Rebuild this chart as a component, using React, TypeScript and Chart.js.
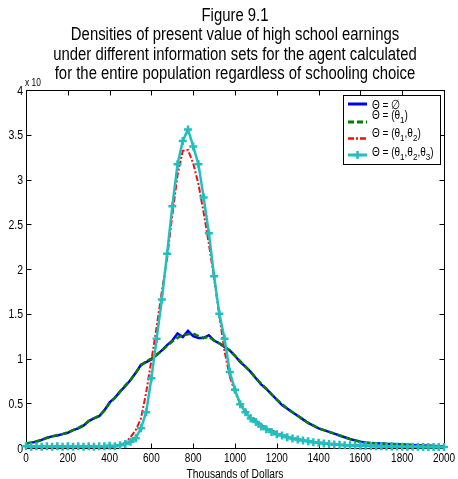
import React, { useEffect, useRef } from "react";
import { Chart, registerables } from "chart.js";

Chart.register(...registerables);

// Present value of high school earnings, thousands of dollars
const EARNINGS = [
  0, 25, 50, 75, 100, 125, 150, 175, 200, 225, 250, 275, 300, 325, 350, 375,
  400, 425, 450, 475, 500, 525, 550, 575, 600, 625, 650, 675, 700, 725, 750,
  775, 800, 825, 850, 875, 900, 925, 950, 975, 1000, 1025, 1050, 1075, 1100,
  1125, 1150, 1175, 1200, 1225, 1250, 1275, 1300, 1325, 1350, 1375, 1400,
  1425, 1450, 1475, 1500, 1525, 1550, 1575, 1600, 1625, 1650, 1675, 1700,
  1725, 1750, 1775, 1800, 1825, 1850, 1875, 1900, 1925, 1950, 1975, 2000,
];

// Densities (x 10^-3) under each information set
const THETA_NONE = [
  0.05, 0.06, 0.07, 0.09, 0.115, 0.13, 0.14, 0.155, 0.17, 0.2, 0.22, 0.25,
  0.3, 0.33, 0.355, 0.42, 0.51, 0.56, 0.63, 0.69, 0.76, 0.84, 0.93, 0.96,
  0.99, 1.04, 1.09, 1.15, 1.2, 1.28, 1.24, 1.31, 1.25, 1.23, 1.23, 1.26, 1.2,
  1.17, 1.13, 1.09, 1.03, 0.96, 0.91, 0.85, 0.78, 0.71, 0.66, 0.6, 0.54,
  0.48, 0.44, 0.4, 0.36, 0.32, 0.28, 0.25, 0.22, 0.2, 0.18, 0.16, 0.14, 0.12,
  0.1, 0.085, 0.07, 0.06, 0.055, 0.052, 0.05, 0.046, 0.045, 0.042, 0.04,
  0.036, 0.032, 0.03, 0.027, 0.025, 0.022, 0.02, 0.02,
];

const THETA_1 = [
  0.05, 0.06, 0.075, 0.09, 0.11, 0.13, 0.145, 0.155, 0.175, 0.2, 0.225, 0.255,
  0.3, 0.33, 0.36, 0.42, 0.5, 0.56, 0.63, 0.7, 0.76, 0.84, 0.92, 0.97, 1.0,
  1.04, 1.09, 1.14, 1.19, 1.23, 1.26, 1.27, 1.28, 1.25, 1.23, 1.24, 1.2, 1.17,
  1.13, 1.09, 1.03, 0.97, 0.91, 0.85, 0.78, 0.72, 0.66, 0.6, 0.54, 0.49,
  0.44, 0.4, 0.36, 0.32, 0.28, 0.25, 0.22, 0.2, 0.18, 0.16, 0.14, 0.12, 0.1,
  0.085, 0.072, 0.062, 0.056, 0.052, 0.05, 0.047, 0.045, 0.042, 0.04, 0.036,
  0.033, 0.03, 0.027, 0.025, 0.022, 0.02, 0.02,
];

const THETA_12 = [
  0.01, 0.01, 0.01, 0.01, 0.01, 0.01, 0.01, 0.01, 0.01, 0.01, 0.01, 0.01,
  0.01, 0.01, 0.01, 0.01, 0.01, 0.015, 0.03, 0.06, 0.12, 0.2, 0.33, 0.62,
  0.98, 1.35, 1.75, 2.12, 2.6, 3.05, 3.32, 3.33, 3.18, 2.95, 2.63, 2.28, 1.9,
  1.48, 1.08, 0.8, 0.62, 0.5, 0.42, 0.36, 0.31, 0.26, 0.23, 0.2, 0.17, 0.15,
  0.13, 0.115, 0.1, 0.09, 0.08, 0.07, 0.063, 0.055, 0.05, 0.045, 0.04, 0.035,
  0.032, 0.03, 0.027, 0.025, 0.023, 0.021, 0.02, 0.018, 0.017, 0.016, 0.015,
  0.014, 0.013, 0.012, 0.012, 0.011, 0.011, 0.01, 0.01,
];

const THETA_123 = [
  0.02, 0.015, 0.02, 0.015, 0.02, 0.015, 0.02, 0.015, 0.02, 0.015, 0.02,
  0.015, 0.02, 0.015, 0.02, 0.02, 0.025, 0.02, 0.03, 0.045, 0.07, 0.11, 0.22,
  0.4, 0.78, 1.22, 1.66, 2.17, 2.7, 3.17, 3.43, 3.56, 3.37, 3.17, 2.8, 2.4,
  1.92, 1.5, 1.22, 0.85, 0.65, 0.49, 0.4, 0.33, 0.29, 0.24, 0.21, 0.18, 0.155,
  0.14, 0.12, 0.105, 0.095, 0.085, 0.075, 0.065, 0.06, 0.05, 0.045, 0.04,
  0.035, 0.032, 0.03, 0.028, 0.025, 0.025, 0.022, 0.02, 0.02, 0.018, 0.018,
  0.016, 0.015, 0.015, 0.014, 0.013, 0.012, 0.012, 0.011, 0.01, 0.01,
];

const X_TICKS = [0, 200, 400, 600, 800, 1000, 1200, 1400, 1600, 1800, 2000];
const Y_TICKS = [0, 0.5, 1, 1.5, 2, 2.5, 3, 3.5, 4];

const TITLE_LINES = [
  "Figure 9.1",
  "Densities of present value of high school earnings",
  "under different information sets for the agent calculated",
  "for the entire population regardless of schooling choice",
];
const X_LABEL = "Thousands of Dollars";
const Y_EXPONENT = "x 10";

type Seg = { t: string; sub?: boolean };
const LEGEND_LABELS: Seg[][] = [
  [{ t: "Θ = ∅" }],
  [{ t: "Θ = (θ" }, { t: "1", sub: true }, { t: ")" }],
  [{ t: "Θ = (θ" }, { t: "1", sub: true }, { t: ",θ" }, { t: "2", sub: true }, { t: ")" }],
  [
    { t: "Θ = (θ" }, { t: "1", sub: true }, { t: ",θ" }, { t: "2", sub: true },
    { t: ",θ" }, { t: "3", sub: true }, { t: ")" },
  ],
];

const FONT = "'Liberation Sans', Arial, Helvetica, sans-serif";

const pairs = (ys: number[]) => EARNINGS.map((x, i) => ({ x, y: ys[i] }));

// Narrow text: the sans face squeezed horizontally
function narrowText(
  ctx: CanvasRenderingContext2D,
  text: string,
  x: number,
  y: number,
  size: number,
  align: CanvasTextAlign,
  sx: number
) {
  ctx.save();
  ctx.translate(x, y);
  ctx.scale(sx, 1);
  ctx.font = `${size}px ${FONT}`;
  ctx.textAlign = align;
  ctx.textBaseline = "alphabetic";
  ctx.fillText(text, 0, 0);
  const w = ctx.measureText(text).width * sx;
  ctx.restore();
  return w;
}

// Title, axes box with inward ticks, tick labels, exponent note and the legend
const decorations = {
  id: "decorations",
  beforeDatasetsDraw(chart: any) {
    const { ctx, chartArea: a, scales } = chart;
    const xs = scales.x;
    const ys = scales.y;
    ctx.save();
    ctx.strokeStyle = "#000";
    ctx.lineWidth = 1;
    const L = Math.round(a.left) + 0.5;
    const R = Math.round(a.right) + 0.5;
    const T = Math.round(a.top) + 0.5;
    const B = Math.round(a.bottom) + 0.5;
    ctx.strokeRect(L, T, R - L, B - T);
    ctx.beginPath();
    for (const v of X_TICKS) {
      const px = Math.round(xs.getPixelForValue(v)) + 0.5;
      ctx.moveTo(px, B);
      ctx.lineTo(px, B - 5);
      ctx.moveTo(px, T);
      ctx.lineTo(px, T + 5);
    }
    for (const v of Y_TICKS) {
      const py = Math.round(ys.getPixelForValue(v)) + 0.5;
      ctx.moveTo(L, py);
      ctx.lineTo(L + 5, py);
      ctx.moveTo(R, py);
      ctx.lineTo(R - 5, py);
    }
    ctx.stroke();

    // tick labels
    ctx.fillStyle = "#000";
    for (const v of X_TICKS) {
      narrowText(ctx, String(v), xs.getPixelForValue(v), a.bottom + 14, 12.5, "center", 0.8);
    }
    for (const v of Y_TICKS) {
      narrowText(ctx, String(v), a.left - 3, ys.getPixelForValue(v) + 4.5, 12.5, "right", 0.84);
    }
    narrowText(ctx, X_LABEL, (a.left + a.right) / 2, a.bottom + 30, 12.5, "center", 0.82);
    ctx.restore();
  },
  afterDraw(chart: any) {
    const { ctx, chartArea: a } = chart;
    ctx.save();
    ctx.fillStyle = "#000";
    // title
    const cx = (a.left + a.right) / 2;
    const baselines = [21, 40, 60, 79];
    TITLE_LINES.forEach((line, i) => narrowText(ctx, line, cx, baselines[i], 17.5, "center", 0.85));
    // exponent note above the y axis
    narrowText(ctx, Y_EXPONENT, a.left - 1, a.top - 4, 10.5, "left", 0.8);

    // legend box
    const bx = 343.5, by = 95.5, bw = 97, bh = 69;
    ctx.fillStyle = "#fff";
    ctx.fillRect(bx, by, bw, bh);
    ctx.strokeStyle = "#000";
    ctx.lineWidth = 1;
    ctx.strokeRect(bx, by, bw, bh);
    const lineY = [104, 122, 138.5, 155];
    const textY = [108.5, 119, 137, 155.5];
    chart.data.datasets.forEach((ds: any, i: number) => {
      ctx.save();
      ctx.strokeStyle = ds.borderColor;
      ctx.lineWidth = ds.borderWidth + 0.5;
      ctx.setLineDash(ds.borderDash || []);
      ctx.beginPath();
      ctx.moveTo(348, lineY[i]);
      ctx.lineTo(367, lineY[i]);
      ctx.stroke();
      if (ds.pointRadius > 0) {
        ctx.setLineDash([]);
        ctx.lineWidth = ds.pointBorderWidth;
        ctx.beginPath();
        ctx.moveTo(357.5 - ds.pointRadius, lineY[i]);
        ctx.lineTo(357.5 + ds.pointRadius, lineY[i]);
        ctx.moveTo(357.5, lineY[i] - ds.pointRadius);
        ctx.lineTo(357.5, lineY[i] + ds.pointRadius);
        ctx.stroke();
      }
      ctx.restore();
      let tx = 372;
      ctx.fillStyle = "#000";
      for (const seg of LEGEND_LABELS[i]) {
        tx += seg.sub
          ? narrowText(ctx, seg.t, tx, textY[i] + 4, 9.5, "left", 0.85)
          : narrowText(ctx, seg.t, tx, textY[i], 12.5, "left", 0.8);
      }
    });
    ctx.restore();
  },
};

export default function App() {
  const ref = useRef<HTMLCanvasElement | null>(null);

  useEffect(() => {
    if (!ref.current) return;
    const chart = new Chart(ref.current, {
      type: "line",
      data: {
        datasets: [
          {
            label: "Θ = ∅",
            data: pairs(THETA_NONE),
            borderColor: "#0000f0",
            borderWidth: 2.5,
            pointRadius: 0,
            tension: 0,
            order: 4,
          },
          {
            label: "Θ = (θ1)",
            data: pairs(THETA_1),
            borderColor: "#007f00",
            borderWidth: 2.5,
            borderDash: [6, 3],
            pointRadius: 0,
            tension: 0,
            order: 3,
          },
          {
            label: "Θ = (θ1,θ2)",
            data: pairs(THETA_12),
            borderColor: "#ee1111",
            borderWidth: 2,
            borderDash: [6, 2, 2, 2],
            pointRadius: 0,
            tension: 0,
            order: 2,
          },
          {
            label: "Θ = (θ1,θ2,θ3)",
            data: pairs(THETA_123),
            borderColor: "#22bfbf",
            backgroundColor: "#22bfbf",
            borderWidth: 2.5,
            pointStyle: "cross",
            pointRadius: 4,
            pointBorderWidth: 2.5,
            pointBorderColor: "#22bfbf",
            tension: 0,
            clip: false,
            order: 1,
          },
        ] as any,
      },
      options: {
        animation: false,
        responsive: false,
        devicePixelRatio: 1,
        layout: { padding: { left: 0, right: 14, top: 90, bottom: 0 } },
        plugins: {
          legend: { display: false },
          title: { display: false },
          tooltip: { enabled: false },
        },
        scales: {
          x: {
            type: "linear",
            min: 0,
            max: 2000,
            grid: { display: false },
            border: { display: false },
            afterBuildTicks: (s: any) => {
              s.ticks = X_TICKS.map((value) => ({ value }));
            },
            afterFit: (s: any) => {
              s.height = 31;
            },
            ticks: { display: false },
          },
          y: {
            type: "linear",
            min: 0,
            max: 4,
            grid: { display: false },
            border: { display: false },
            afterBuildTicks: (s: any) => {
              s.ticks = Y_TICKS.map((value) => ({ value }));
            },
            afterFit: (s: any) => {
              s.width = 26;
            },
            ticks: { display: false },
          },
        },
      },
      plugins: [decorations],
    });
    return () => chart.destroy();
  }, []);

  return (
    <div style={{ position: "absolute", left: 0, top: 0, width: 458, height: 479, background: "#fff" }}>
      <canvas ref={ref} width={458} height={479} />
    </div>
  );
}
